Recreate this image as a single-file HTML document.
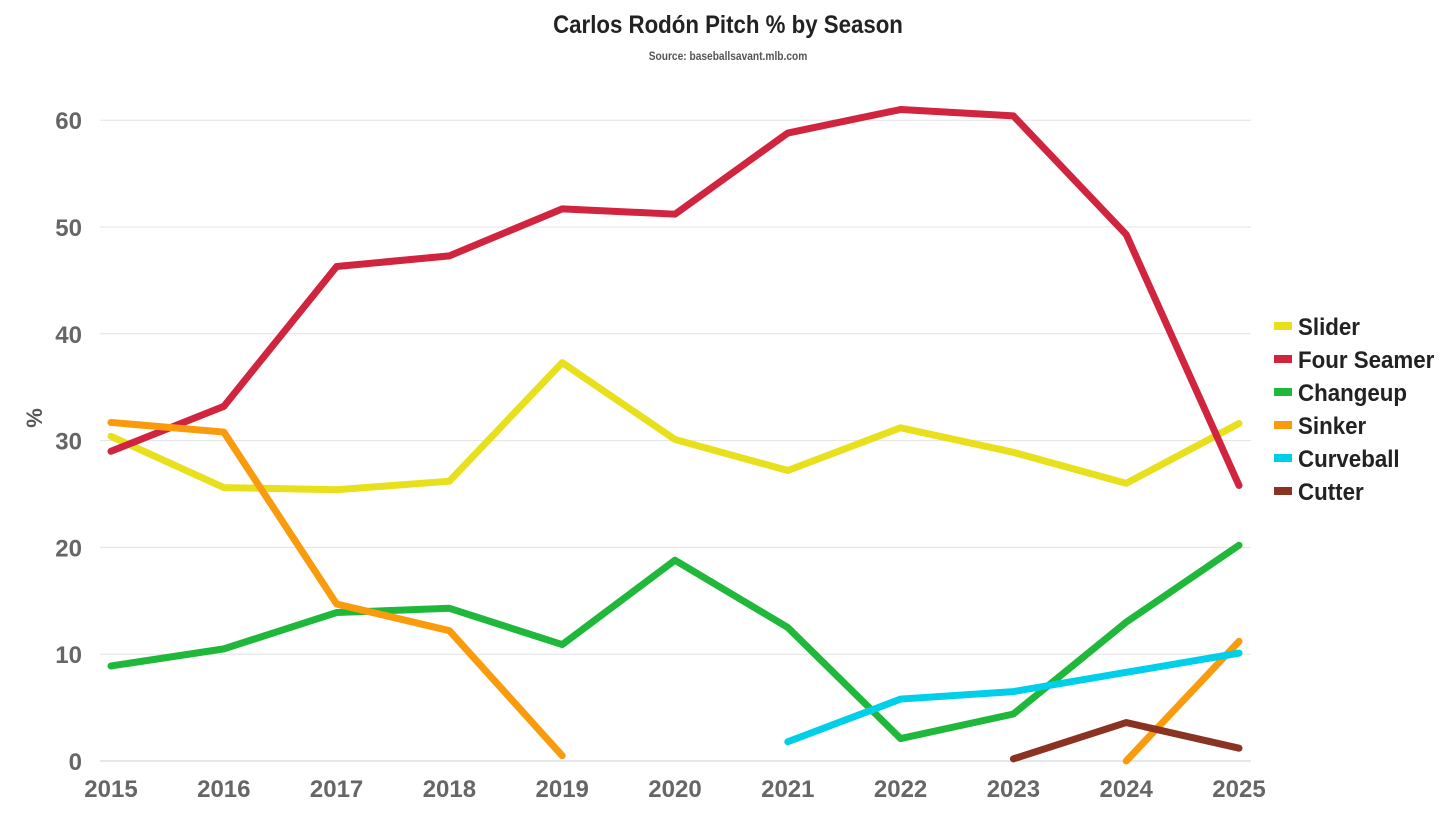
<!DOCTYPE html>
<html><head><meta charset="utf-8"><style>
html,body{margin:0;padding:0;background:#fff;}
svg{display:block;font-family:"Liberation Sans Narrow","Liberation Sans",sans-serif;}
</style></head><body>
<svg id="chart" width="1456" height="819">
<text x="728" y="33" text-anchor="middle" font-size="25" font-weight="bold" fill="#222" transform="translate(728,0) scale(0.89,1) translate(-728,0)">Carlos Rodón Pitch % by Season</text>
<text x="728" y="60" text-anchor="middle" font-size="12" font-weight="bold" fill="#555" transform="translate(728,0) scale(0.85,1) translate(-728,0)">Source: baseballsavant.mlb.com</text>
<text x="42" y="418" text-anchor="middle" font-size="22" font-weight="bold" fill="#555" transform="rotate(-90 42 418)">%</text>
<g id="grid"></g><g id="series"></g><g id="legend"></g>
</svg>
<script>
const years=[2015,2016,2017,2018,2019,2020,2021,2022,2023,2024,2025];
const yTicks=[0,10,20,30,40,50,60];
const names=["Slider","Four Seamer","Changeup","Sinker","Curveball","Cutter"];
const colors=["#e8e01c","#d0243f","#1fb83a","#f99b0c","#00cfea","#8b3323"];
const slider=[30.4,25.6,25.4,26.2,37.3,30.1,27.2,31.2,28.9,26.0,31.6];
const fourSeamer=[29.0,33.2,46.3,47.3,51.7,51.2,58.8,61.0,60.4,49.3,25.8];
const changeup=[8.9,10.5,13.9,14.3,10.9,18.8,12.5,2.1,4.4,13.0,20.2];
const sinker=[31.7,30.8,14.7,12.2,0.5,null,null,null,null,0,11.2];
const curveball=[null,null,null,null,null,null,1.8,5.8,6.5,8.3,10.1];
const cutter=[null,null,null,null,null,null,null,null,0.2,3.6,1.2];
const seriesData=[slider,fourSeamer,changeup,sinker,curveball,cutter];
const NS="http://www.w3.org/2000/svg";
const xS=y=>111+(y-2015)*112.8;
const yS=v=>761-v*10.68;
function mk(t,a,p){const e=document.createElementNS(NS,t);for(const k in a)e.setAttribute(k,a[k]);p.appendChild(e);return e;}
const grid=document.getElementById('grid');
yTicks.forEach(v=>{
  const l=mk('line',{x1:100,x2:1251,y1:yS(v),y2:yS(v),stroke:v===0?'#c8d0dc':'#e3e3e3','stroke-width':1},grid);
  
  
  const t=mk('text',{x:82,y:yS(v)+9,'text-anchor':'end','font-size':24,'font-weight':'bold',fill:'#666'},grid);
  t.textContent=v;
  
  
});
years.forEach(y=>{
  const t=mk('text',{x:xS(y),y:797,'text-anchor':'middle','font-size':24,'font-weight':'bold',fill:'#666'},grid);
  t.textContent=y;
  
  
});
const sg=document.getElementById('series');
seriesData.forEach((arr,i)=>{
  let d='',pen=false;
  arr.forEach((v,j)=>{
    if(v===null){pen=false;return;}
    d+=(pen?'L':'M')+xS(years[j])+','+yS(v);pen=true;
  });
  const p=mk('path',{d:d,fill:'none',stroke:colors[i],'stroke-width':7,'stroke-linecap':'round','stroke-linejoin':'round'},sg);
  
  
});
const lg=document.getElementById('legend');
names.forEach((n,i)=>{
  const y=326+i*33;
  const r=mk('rect',{x:1274,y:y-4,width:18,height:8,fill:colors[i]},lg);
  
  
  const t=mk('text',{x:1298,y:y+9,'font-size':24,'font-weight':'bold',fill:'#222',transform:'translate(1298,0) scale(0.93,1) translate(-1298,0)'},lg);
  t.textContent=n;
  
  
});
</script>
</body></html>
